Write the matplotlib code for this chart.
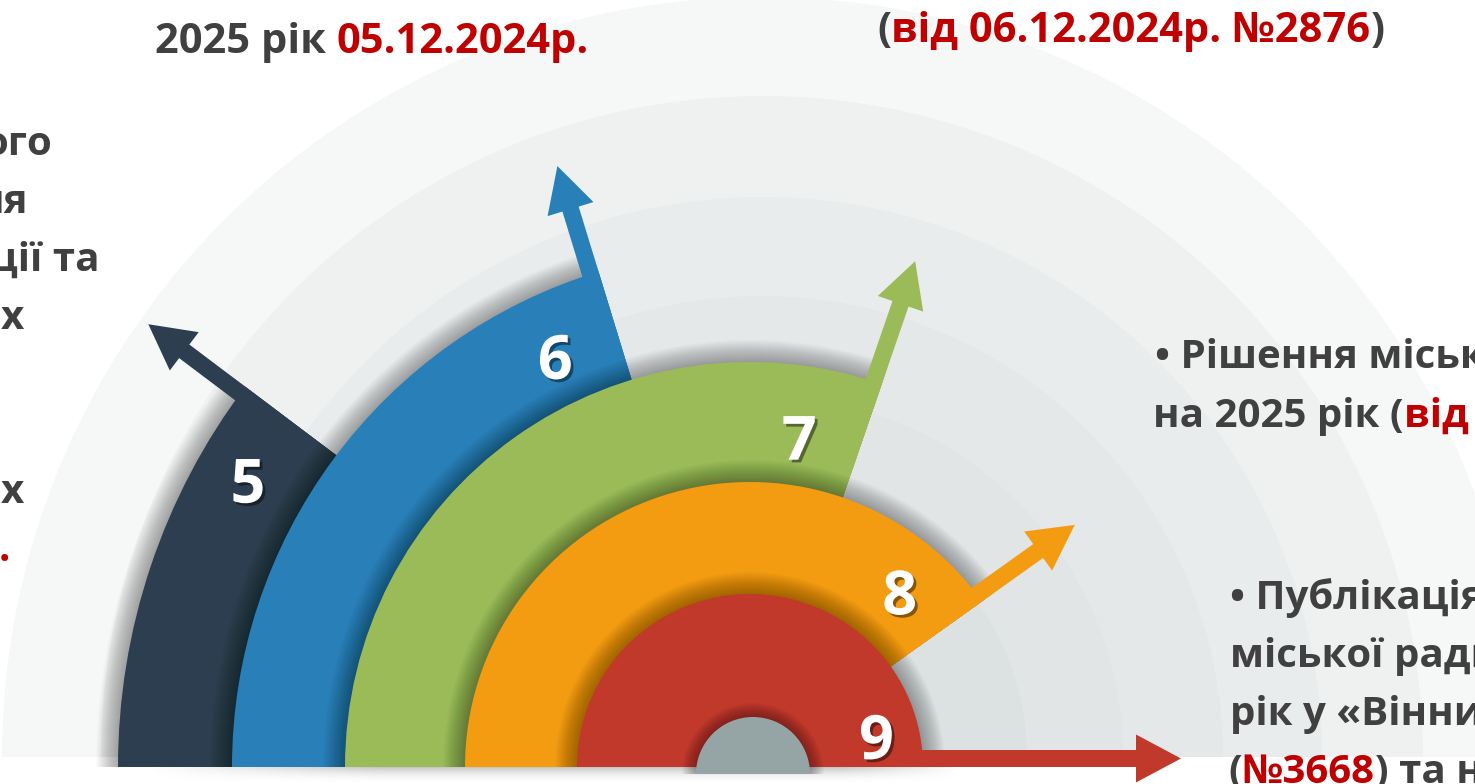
#!/usr/bin/env python3
"""
Semicircle step infographic (steps 5-9) with the captions around it.
"""
import numpy as np
import matplotlib
matplotlib.use('Agg')
import matplotlib.pyplot as plt
from matplotlib.patches import Wedge, Polygon
import matplotlib.patheffects as pe
from matplotlib import font_manager

W, H = 1475, 784
DARK = '#404040'
RED = '#c00000'

# steps, outer band first
steps = ['5', '6', '7', '8', '9']
step_colors = ['#2c3e50', '#2980b9', '#9bbb59', '#f39c12', '#c0392b']
hub_color = '#95a5a6'

# captions (what is visible of them, the slide is cropped)
top_left_hidden = 'Прийняття бюджету на'
top_left = [('2025 рік ', DARK), ('05.12.2024р.', RED)]
top_right = [('(', DARK), ('від 06.12.2024р. №2876', RED), (')', DARK)]
left_tail = [('ого', DARK), ('ня', DARK), ('ції та', DARK), ('х', DARK),
             ('х', DARK), ('.', RED)]
right_mid = [[('• Рішення міської ради про бюджет', DARK)],
             [('на 2025 рік (', DARK), ('від 20.12.2024р.', RED)]]
right_low = [[('• Публікація рішення', DARK)],
             [('міської ради про бюджет на 2025', DARK)],
             [('рік у «Вінницькій газеті»', DARK)],
             [('(', DARK), ('№3668', RED), (') та на сайті', DARK)]]

# background rings
ring_colors = ['#f6f7f7', '#eff1f1', '#e9eced', '#e5e8e9', '#e1e5e6', '#dce1e2']


def pick_bold_family():
    # first family that really has a bold face installed
    for fam in ['Open Sans', 'Noto Sans', 'Lato', 'Roboto', 'DejaVu Sans']:
        path = font_manager.findfont(font_manager.FontProperties(family=fam, weight='bold'),
                                     fallback_to_default=False)
        if path and 'bold' in path.lower():
            return fam
    return 'DejaVu Sans'


plt.rcParams['font.family'] = [pick_bold_family(), 'DejaVu Sans']


def main():
    fig = plt.figure(figsize=(W / 100, H / 100), dpi=100)
    ax = fig.add_axes([0, 0, 1, 1])
    renderer = fig.canvas.get_renderer()

    # geometry (pixels, y measured from the bottom)
    cx, cy = 750, H - 767
    ring_c = (762, H - 757)
    ring_r = [760, 661, 560, 461, 361, 265]
    band_r = [632, 518, 405, 285, 173]
    cut_deg = [143, 107, 71, 35.5, 0]
    tip_r = [747, 631, 532, 405, 431]
    lab_deg = [150.3, 115.4, 81.5, 49.4, 13.4]
    lab_r = [578, 454, 333, 230, 130]
    hub_c, hub_r = (753, H - 774), 57
    shaft_w, head_hw, head_len, shaft_r0 = 17, 24, 45, 60

    for r, c in zip(ring_r, ring_colors):
        ax.add_patch(Wedge(ring_c, r, 0, 180, facecolor=c, lw=0, zorder=1))

    # soft shadow under the base
    x0, x1 = 150, 960
    xs = np.arange(x0, x1)
    ys = np.linspace(0, 1, 18)
    ax_x = np.clip((xs - x0) / 230, 0, 1) * np.clip((x1 - xs) / 120, 0, 1)
    ay = 0.4 * (1 - ys) ** 2
    img = np.zeros((len(ys), len(xs), 4))
    img[..., :3] = 0.45
    img[..., 3] = ay[:, None] * ax_x[None, :]
    ax.imshow(img, extent=(x0, x1, 0, H - 767), origin='upper',
              aspect='auto', zorder=2, interpolation='bilinear')

    def shadow(center, r, t1, t2, z, depth=22, a=0.015):
        for d in range(depth, 0, -1):
            ax.add_patch(Wedge(center, r + d, t1, t2, facecolor='black',
                               alpha=a, lw=0, zorder=z))

    for i, (col, r, cut, rt) in enumerate(zip(step_colors, band_r, cut_deg, tip_r)):
        z = 3 + i * 3
        shadow((cx, cy), r, cut, 180, z)
        ax.add_patch(Wedge((cx, cy), r, cut, 180, facecolor=col, lw=0, zorder=z + 1))
        th = np.radians(cut)
        u = np.array([np.cos(th), np.sin(th)])
        n = np.array([-np.sin(th), np.cos(th)])
        c0 = np.array([cx, cy]) + shaft_r0 * u
        m = shaft_w / 2
        rh = rt - head_len - shaft_r0
        rt0 = rt - shaft_r0
        pts = [c0, c0 + rh * u, c0 + rh * u + (m - head_hw) * n,
               c0 + rt0 * u + m * n, c0 + rh * u + (m + head_hw) * n,
               c0 + rh * u + shaft_w * n, c0 + shaft_w * n]
        ax.add_patch(Polygon(pts, closed=True, facecolor=col, lw=0, zorder=z + 2))

    shadow(hub_c, hub_r, 0, 180, 20, depth=14, a=0.025)
    ax.add_patch(Wedge(hub_c, hub_r, 0, 180, facecolor=hub_color, lw=0, zorder=21))

    # step numbers
    for s, a, r in zip(steps, lab_deg, lab_r):
        x = cx + r * np.cos(np.radians(a))
        y = cy + r * np.sin(np.radians(a)) - 22
        ax.text(x, y, s, color='white', fontsize=44, fontweight='bold',
                ha='center', va='baseline', zorder=30,
                path_effects=[pe.withSimplePatchShadow(offset=(2, -2),
                                                       shadow_rgbFace='black',
                                                       alpha=0.45)])

    def width(s, size):
        t = ax.text(0, 0, s + '|', fontsize=size, fontweight='bold')
        t2 = ax.text(0, 0, '|', fontsize=size, fontweight='bold')
        w = t.get_window_extent(renderer).width - t2.get_window_extent(renderer).width
        t.remove()
        t2.remove()
        return w

    def rich(x, y_px, parts, size=29, ha='left'):
        ws = [width(s, size) for s, _ in parts]
        if ha == 'center':
            x -= sum(ws) / 2
        elif ha == 'right':
            x -= sum(ws)
        for (s, c), w in zip(parts, ws):
            ax.text(x, H - y_px, s, color=c, fontsize=size, fontweight='bold',
                    ha='left', va='baseline', zorder=40)
            x += w

    rich(372, -10, [(top_left_hidden, DARK)], 30, 'center')
    rich(372, 53, top_left, 30, 'center')
    rich(1131, 42, top_right, 30, 'center')

    left_end = [52, 28, 100, 24, 24, 10]
    left_base = [155, 213, 271, 329, 503, 561]
    for part, xe, yb in zip(left_tail, left_end, left_base):
        rich(xe, yb, [part], 29, 'right')

    for parts, xs0, yb in zip(right_mid, [1155, 1153], [368, 427]):
        rich(xs0, yb, parts, 29)
    for parts, xs0, yb in zip(right_low, [1230, 1230, 1230, 1228], [609, 667, 725, 783]):
        rich(xs0, yb, parts, 29)

    ax.set_xlim(0, W)
    ax.set_ylim(0, H)
    ax.axis('off')
    fig.savefig('out.png', dpi=100, facecolor='white')


if __name__ == '__main__':
    main()
